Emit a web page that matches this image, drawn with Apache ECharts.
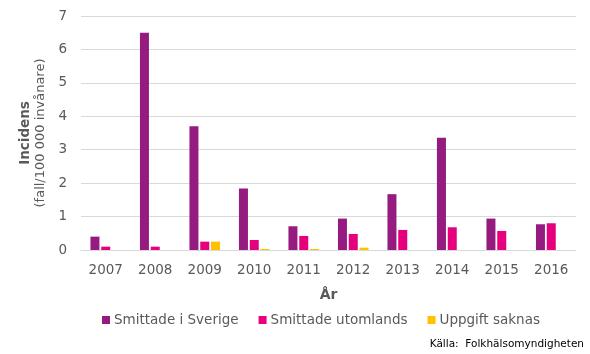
<!DOCTYPE html>
<html><head><meta charset="utf-8">
<script src="https://cdn.jsdelivr.net/npm/echarts@6/dist/echarts.min.js"></script>
<style>html,body{margin:0;padding:0;background:#fff}#c{width:590px;height:354px}</style>
</head><body><div id="c"></div>
<script>
const years = ['2007','2008','2009','2010','2011','2012','2013','2014','2015','2016'];
const sverige = [0.4, 6.5, 3.7, 1.84, 0.71, 0.94, 1.67, 3.36, 0.94, 0.77];
const utomlands = [0.1, 0.1, 0.25, 0.3, 0.42, 0.48, 0.6, 0.68, 0.57, 0.8];
const saknas = [null, null, 0.25, 0.03, 0.03, 0.07, null, null, null, null];
const yTicks = [0,1,2,3,4,5,6,7];

const font = 'DejaVu Sans';
const chart = echarts.init(document.getElementById('c'));
const barStyle = c => ({color: c});
chart.setOption({
  animation: false,
  textStyle: {fontFamily: font},
  grid: {left: 81, right: 14, top: 16, bottom: 104},
  xAxis: {
    type: 'category', data: years,
    axisLine: {lineStyle: {color: '#d9d9d9'}},
    axisTick: {show: false},
    axisLabel: {color: '#595959', fontSize: 13.5, margin: 13, fontFamily: font},
    name: 'År', nameLocation: 'middle', nameGap: 38,
    nameTextStyle: {fontWeight: 'bold', fontSize: 14, color: '#595959', fontFamily: font}
  },
  yAxis: {
    type: 'value', min: 0, max: 7, interval: 1,
    axisLabel: {color: '#595959', fontSize: 13.5, margin: 14, fontFamily: font,
      formatter: v => yTicks.includes(v) ? String(v) : ''},
    splitLine: {lineStyle: {color: '#d9d9d9'}},
    axisLine: {show: false},
    name: '{a|Incidens}\n{b|(fall/100 000 invånare)}',
    nameLocation: 'middle', nameRotate: 90, nameGap: 28,
    nameTextStyle: {
      rich: {
        a: {fontWeight: 'bold', fontSize: 13.5, color: '#595959', fontFamily: font, lineHeight: 16, align: 'center'},
        b: {fontSize: 13, color: '#595959', fontFamily: font, lineHeight: 16, align: 'center'}
      }
    }
  },
  legend: {
    bottom: 22, left: 97, itemWidth: 8, itemHeight: 8, itemGap: 20,
    icon: 'rect',
    textStyle: {color: '#595959', fontSize: 13.5, fontFamily: font, padding: [0,0,0,-1]},
    data: ['Smittade i Sverige', 'Smittade utomlands', 'Uppgift saknas']
  },
  series: [
    {name: 'Smittade i Sverige', type: 'bar', data: sverige, barWidth: 9, barGap: '20%', itemStyle: barStyle('#951B81')},
    {name: 'Smittade utomlands', type: 'bar', data: utomlands, barWidth: 9, barGap: '20%', itemStyle: barStyle('#E6007E')},
    {name: 'Uppgift saknas', type: 'bar', data: saknas, barWidth: 9, barGap: '20%', itemStyle: barStyle('#FFC000')}
  ],
  graphic: [{type: 'text', right: 6, bottom: 4, style: {text: 'Källa:  Folkhälsomyndigheten', fontSize: 10.5, fill: '#000', fontFamily: font}}]
});
</script></body></html>
